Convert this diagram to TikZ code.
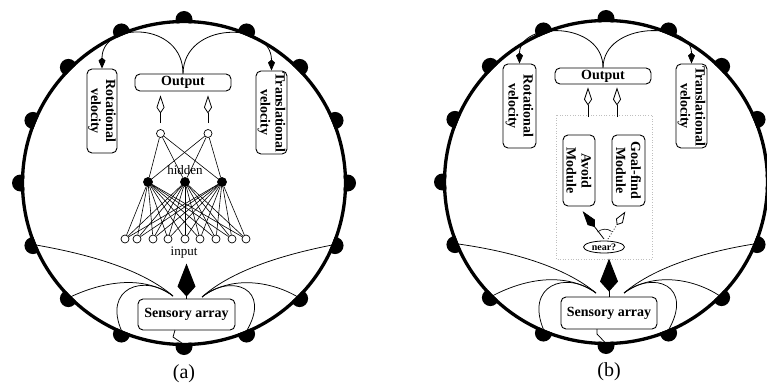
\documentclass[tikz,border=0pt]{standalone}
\usepackage{fontspec}
\setmainfont{Liberation Serif}
\usetikzlibrary{arrows.meta,calc,shapes.geometric}
\begin{document}
\begin{tikzpicture}[x=1pt,y=-1pt,
  rim/.style={line width=3.3pt},
  box/.style={draw, line width=0.9pt, rounded corners=5pt, font=\fontsize{14}{15}\selectfont\bfseries, inner sep=0pt, align=center},
  vbox/.style={box, rotate=-90},
  unit/.style={circle, draw, line width=0.7pt, minimum size=8pt, inner sep=0pt, fill=white},
  hunit/.style={unit, fill=black, minimum size=9pt},
  link/.style={line width=0.6pt},
  wire/.style={line width=0.75pt},
  curvearr/.style={line width=0.8pt, -{Kite[length=11pt,width=7pt,inset=3pt]}},
  openarr/.style={line width=0.8pt, -{Kite[open,length=18pt,width=8pt,inset=6pt]}},
  bigarr/.style={line width=1pt, -{Kite[length=33pt,width=18pt,inset=10pt]}},
  fillarr/.style={line width=0.8pt, -{Kite[length=20pt,width=9pt,inset=6pt]}},
  dotarr/.style={line width=0.8pt, dotted, -{Kite[open,length=16pt,width=8pt,inset=5pt]}},
  lbl/.style={font=\fontsize{13}{14}\selectfont},
  captext/.style={font=\fontsize{20}{22}\selectfont}
]
\useasboundingbox (0,0) rectangle (767,385);

% ================= LEFT PANEL =================
\coordinate (Lc) at (184,183);
\foreach \a in {0,22.5,...,337.5}
  \fill ($(Lc)+(\a:163.5)$) circle[radius=8.5pt];
\fill[white] (Lc) circle[radius=159.8pt];
\draw[rim] (Lc) circle[radius=161.5pt];

\begin{scope}[shift={(184,183)}]
  \node[box, minimum width=97pt, minimum height=31pt] (Lsa) at (2.5,131.5) {Sensory array};
  \coordinate (Lj1) at (-11,113);
  \coordinate (Lj2) at (18,114);
  \coordinate (Ls1) at (157.5:161.5);
  \coordinate (Ls2) at (135:161.5);
  \coordinate (Ls3) at (112.5:161.5);
  \coordinate (Ls4) at (22.5:161.5);
  \coordinate (Ls5) at (45:161.5);
  \coordinate (Ls6) at (67.5:161.5);
  \coordinate (Lsb) at (90:161.5);
  \coordinate (Lw) at (-9,147);
  \draw[wire] (Ls1) .. controls (-90,72) and (-40,88) .. (Lj1);
  \draw[wire] (Ls2) .. controls (-80,98) and (-40,92) .. (Lj1);
  \draw[wire] (Ls3) .. controls (-82,105) and (-40,90) .. (Lj1);
  \draw[wire] (Ls4) .. controls (97,72) and (47,88) .. (Lj2);
  \draw[wire] (Ls5) .. controls (87,98) and (47,92) .. (Lj2);
  \draw[wire] (Ls6) .. controls (89,105) and (47,90) .. (Lj2);
  \draw[wire] (Lw) -- (-11,154) -- (Lsb);
\end{scope}
\coordinate (Lt) at ($(Lsa.north)+(0,-35)$);
\draw[bigarr] (Lsa.north) -- (Lt);

% network
\node[unit] (o1) at (160.5,133.5) {};
\node[unit] (o2) at (208,133.5) {};
\foreach \x [count=\n] in {148,185,222} \node[hunit] (h\n) at (\x,182) {};
\foreach \x [count=\n] in {125,137,153,168,185,200,216,232,246} \node[unit] (i\n) at (\x,239) {};
\foreach \i in {1,...,9} \foreach \h in {1,2,3} \draw[link] (i\i) -- (h\h);
\foreach \h in {1,2,3} \foreach \o in {1,2} \draw[link] (h\h) -- (o\o);
\node[lbl] (Lhid) at (185,170) {hidden};
\node[lbl] (Lin) at (184,253) {input};

\node[box, minimum width=96pt, minimum height=17pt] (Lout) at (183,82.5) {Output};
\node[vbox, minimum width=84pt, minimum height=30pt] (Lrot) at (102,111) {Rotational\\velocity};
\node[vbox, minimum width=83pt, minimum height=31pt] (Ltr) at (271.5,112.5) {Translational\\velocity};
\draw[curvearr] (Lout.north) .. controls (183,21) and (102,21) .. (Lrot.west);
\draw[curvearr] (Lout.north) .. controls (184,21) and (271.5,21) .. (Ltr.west);
\draw[openarr, shorten <=6pt, shorten >=4pt] (o1.north) -- (o1.north |- Lout.south);
\draw[openarr, shorten <=6pt, shorten >=4pt] (o2.north) -- (o2.north |- Lout.south);

\node[captext] (La) at (184,374) {(a)};

% ================= RIGHT PANEL =================
\coordinate (Rc) at (606,182);
\foreach \a in {0,22.5,...,337.5}
  \fill ($(Rc)+(\a:163.5)$) circle[radius=8.5pt];
\fill[white] (Rc) circle[radius=159.8pt];
\draw[rim] (Rc) circle[radius=161.5pt];

\begin{scope}[shift={(606,182)}]
  \node[box, minimum width=96pt, minimum height=32pt] (Rsa) at (3,131) {Sensory array};
  \coordinate (Rj1) at (-10,111);
  \coordinate (Rj2) at (18,111);
  \coordinate (Rs1) at (157.5:161.5);
  \coordinate (Rs2) at (135:161.5);
  \coordinate (Rs3) at (112.5:161.5);
  \coordinate (Rs4) at (22.5:161.5);
  \coordinate (Rs5) at (45:161.5);
  \coordinate (Rs6) at (67.5:161.5);
  \coordinate (Rsb) at (90:161.5);
  \coordinate (Rw) at (-9,147);
  \draw[wire] (Rs1) .. controls (-90,70) and (-40,86) .. (Rj1);
  \draw[wire] (Rs2) .. controls (-80,96) and (-40,90) .. (Rj1);
  \draw[wire] (Rs3) .. controls (-82,103) and (-40,88) .. (Rj1);
  \draw[wire] (Rs4) .. controls (97,70) and (47,86) .. (Rj2);
  \draw[wire] (Rs5) .. controls (87,96) and (47,90) .. (Rj2);
  \draw[wire] (Rs6) .. controls (89,103) and (47,88) .. (Rj2);
  \draw[wire] (Rw) -- (-9,152) -- (Rsb);
\end{scope}
\coordinate (Rt) at ($(Rsa.north)+(0,-38)$);
\draw[bigarr] (Rsa.north) -- (Rt);

\draw[gray!50, line width=0.6pt, dotted] (556,115) rectangle (652,259);

\node[box, minimum width=96pt, minimum height=16pt] (Rout) at (603,76) {Output};
\node[vbox, minimum width=84pt, minimum height=33pt] (Rrot) at (519.5,106) {Rotational\\velocity};
\node[vbox, minimum width=84pt, minimum height=31pt] (Rtr) at (691.5,106) {Translational\\velocity};
\draw[curvearr] (Rout.north) .. controls (603,21) and (519.5,21) .. (Rrot.west);
\draw[curvearr] (Rout.north) .. controls (604,21) and (691.5,21) .. (Rtr.west);

\coordinate (Rq1) at (588,117);
\coordinate (Rq2) at (617,117);
\draw[openarr, shorten >=3pt] (Rq1) -- (Rq1 |- Rout.south);
\draw[openarr, shorten >=3pt] (Rq2) -- (Rq2 |- Rout.south);

\node[vbox, minimum width=71pt, minimum height=32pt] (Ravoid) at (579,170.5) {Avoid\\Module};
\node[vbox, minimum width=71pt, minimum height=33pt] (Rgoal) at (628.5,170.5) {Goal-find\\Module};
\node[draw, ellipse, line width=0.8pt, minimum width=41pt, minimum height=12pt, inner sep=0pt,
      font=\fontsize{10}{11}\selectfont\bfseries] (Rnear) at (604,247) {near?};
\coordinate (Rn1) at (604,239);
\coordinate (Rn2) at (608,239);
\draw[fillarr, shorten >=6pt] (Rn1) -- (Ravoid.east);
\draw[dotarr, shorten >=6pt] (Rn2) -- (Rgoal.east);
\draw[line width=0.6pt] (597.6,232) .. controls (601.5,228.5) and (607.4,228.2) .. (611.6,231.4);

\node[captext] (Rb) at (609,372) {(b)};
\end{tikzpicture}
\end{document}
